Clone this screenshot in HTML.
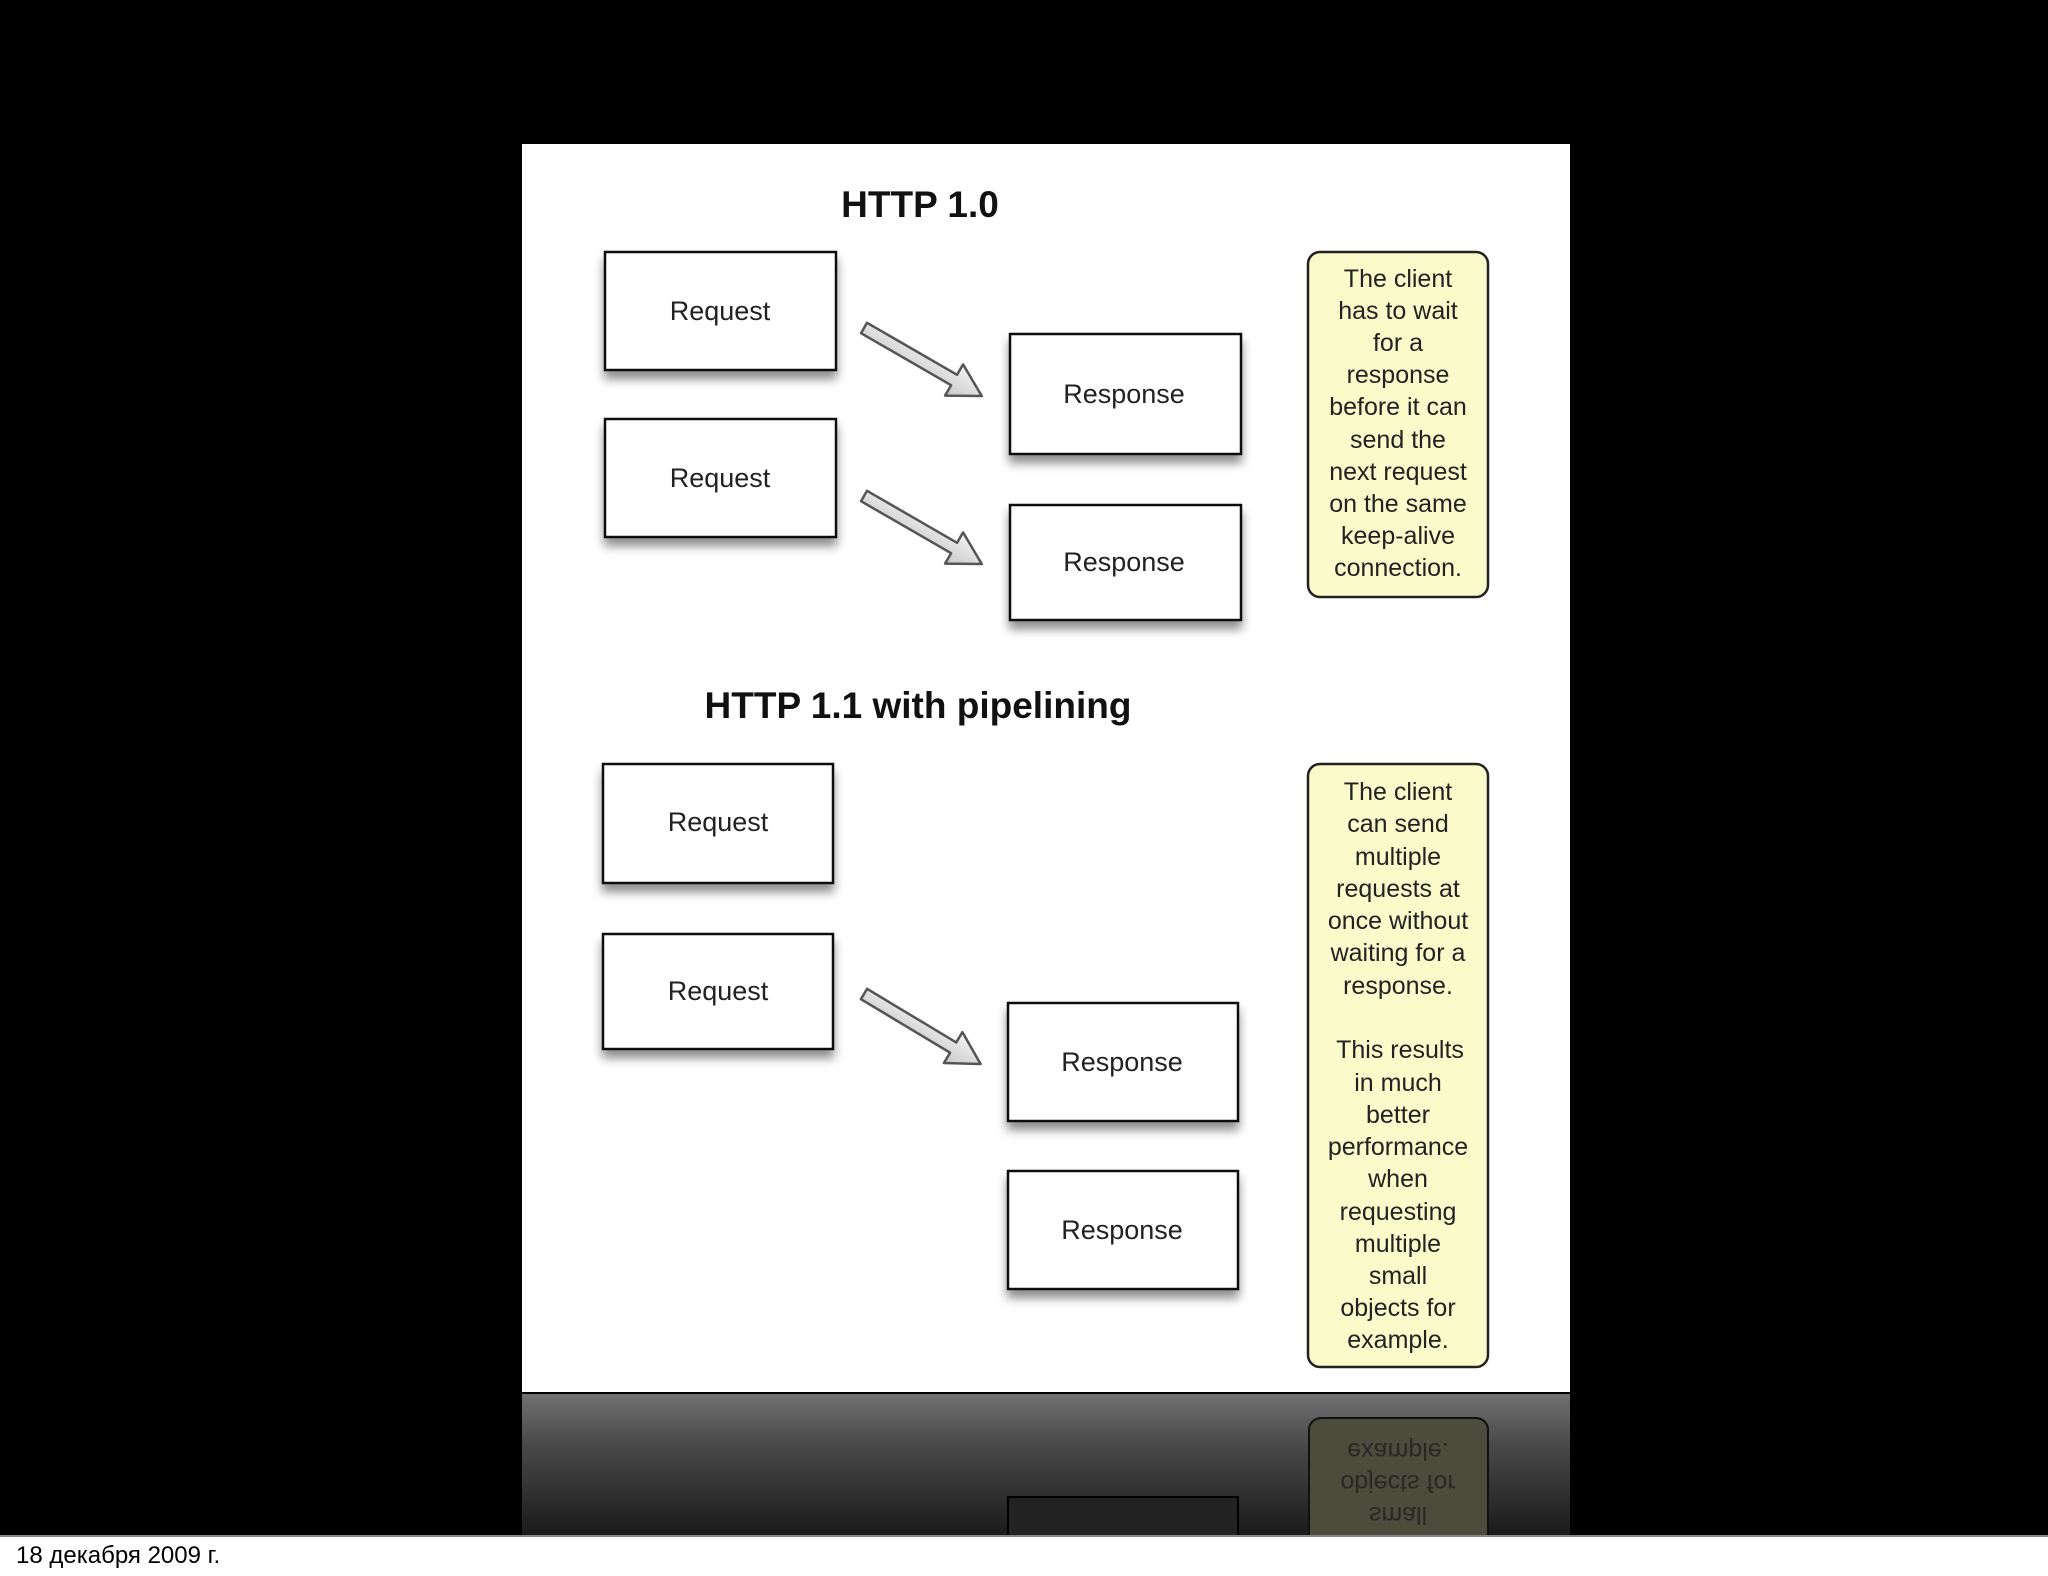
<!DOCTYPE html>
<html><head><meta charset="utf-8"><style>
html,body{margin:0;padding:0;background:#000;width:2048px;height:1576px;overflow:hidden}
svg{display:block}
text{font-family:"Liberation Sans",sans-serif}
</style></head><body>
<svg width="2048" height="1576" viewBox="0 0 2048 1576" xmlns="http://www.w3.org/2000/svg">
<defs>
<filter id="sh" x="-20%" y="-20%" width="140%" height="160%"><feGaussianBlur in="SourceAlpha" stdDeviation="5"/><feOffset dy="8"/><feComponentTransfer><feFuncA type="linear" slope="0.45"/></feComponentTransfer><feMerge><feMergeNode/><feMergeNode in="SourceGraphic"/></feMerge></filter>
<linearGradient id="rg" x1="0" y1="0" x2="0" y2="1"><stop offset="0" stop-color="#707070"/><stop offset="0.35" stop-color="#4a4a4a"/><stop offset="1" stop-color="#1a1a1a"/></linearGradient>
<linearGradient id="ag" x1="0" y1="0" x2="0" y2="1"><stop offset="0" stop-color="#f4f4f4"/><stop offset="1" stop-color="#c8c8c8"/></linearGradient>
<g id="arr"><polygon points="0,-6 104,-6 104,-18 136,0 104,18 104,6 0,6" fill="url(#ag)" stroke="#555" stroke-width="2.5" stroke-linejoin="round"/></g>
</defs>
<rect x="0" y="0" width="2048" height="1576" fill="#000"/>
<rect x="522" y="144" width="1048" height="1248" fill="#fff"/>
<rect x="522" y="1394" width="1048" height="142" fill="url(#rg)"/>
<rect x="1309" y="1418" width="179" height="130" rx="12" fill="#4c4c3c" stroke="#111" stroke-width="2"/>
<rect x="1008" y="1497" width="230" height="50" fill="#222" stroke="#000" stroke-width="2"/>
<g transform="translate(0,2890) scale(1,-1)" fill="#222" font-size="25" text-anchor="middle" opacity="0.85">
<text x="1398" y="1447">example.</text>
<text x="1398" y="1415">objects for</text>
<text x="1398" y="1383">small</text>
</g>
<rect x="0" y="1536" width="2048" height="40" fill="#fff"/>
<rect x="0" y="1535" width="2048" height="2" fill="#888"/>
<text x="16" y="1563" font-size="24" fill="#000">18 декабря 2009 г.</text>

<text x="920" y="217" font-size="37" font-weight="bold" text-anchor="middle" fill="#111">HTTP 1.0</text>
<text x="918" y="718" font-size="37" font-weight="bold" text-anchor="middle" fill="#111">HTTP 1.1 with pipelining</text>

<g filter="url(#sh)" fill="#fff" stroke="#111" stroke-width="2.5">
<rect x="605" y="252" width="231" height="118"/>
<rect x="605" y="419" width="231" height="118"/>
<rect x="1010" y="334" width="231" height="120"/>
<rect x="1010" y="505" width="231" height="115"/>
<rect x="603" y="764" width="230" height="119"/>
<rect x="603" y="934" width="230" height="115"/>
<rect x="1008" y="1003" width="230" height="118"/>
<rect x="1008" y="1171" width="230" height="118"/>
</g>
<g font-size="27" text-anchor="middle" fill="#222">
<text x="720" y="320">Request</text>
<text x="720" y="487">Request</text>
<text x="1124" y="403">Response</text>
<text x="1124" y="571">Response</text>
<text x="718" y="831">Request</text>
<text x="718" y="1000">Request</text>
<text x="1122" y="1071">Response</text>
<text x="1122" y="1239">Response</text>
</g>

<use href="#arr" transform="translate(864,328) rotate(30)"/>
<use href="#arr" transform="translate(864,496) rotate(30)"/>
<use href="#arr" transform="translate(864,994) rotate(31)"/>

<rect x="1308" y="252" width="180" height="345" rx="12" fill="#fafacb" stroke="#222" stroke-width="2.5"/>
<rect x="1308" y="764" width="180" height="603" rx="12" fill="#fafacb" stroke="#222" stroke-width="2.5"/>
<g font-size="25" text-anchor="middle" fill="#222">
<text x="1398" y="287">The client</text>
<text x="1398" y="319">has to wait</text>
<text x="1398" y="351">for a</text>
<text x="1398" y="383">response</text>
<text x="1398" y="415">before it can</text>
<text x="1398" y="448">send the</text>
<text x="1398" y="480">next request</text>
<text x="1398" y="512">on the same</text>
<text x="1398" y="544">keep-alive</text>
<text x="1398" y="576">connection.</text>

<text x="1398" y="800">The client</text>
<text x="1398" y="832">can send</text>
<text x="1398" y="865">multiple</text>
<text x="1398" y="897">requests at</text>
<text x="1398" y="929">once without</text>
<text x="1398" y="961">waiting for a</text>
<text x="1398" y="994">response.</text>
<text x="1400" y="1058">This results</text>
<text x="1398" y="1091">in much</text>
<text x="1398" y="1123">better</text>
<text x="1398" y="1155">performance</text>
<text x="1398" y="1187">when</text>
<text x="1398" y="1220">requesting</text>
<text x="1398" y="1252">multiple</text>
<text x="1398" y="1284">small</text>
<text x="1398" y="1316">objects for</text>
<text x="1398" y="1348">example.</text>
</g>
</svg>
</body></html>
